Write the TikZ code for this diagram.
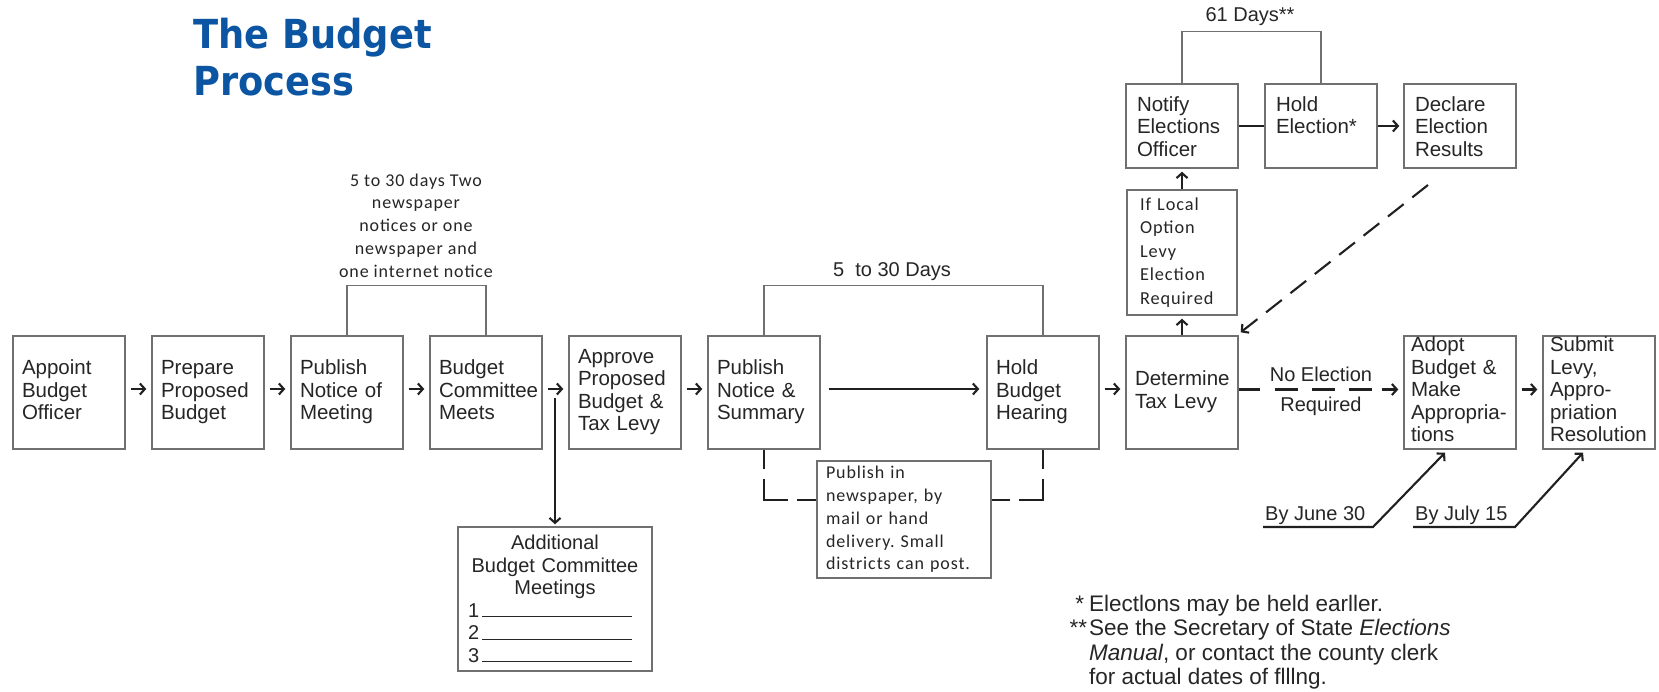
\documentclass[tikz,border=0pt]{standalone}
\usepackage{fontspec}
\usepackage{graphicx}
\setmainfont{Liberation Sans}
\newfontfamily\calfont[LetterSpace=5]{Carlito}
\newfontfamily\titlefont[FakeStretch=0.92]{DejaVu Sans}
\usetikzlibrary{arrows.meta}
\definecolor{boxgray}{HTML}{707070}
\definecolor{txt}{HTML}{262626}
\definecolor{arrowc}{HTML}{202020}
\definecolor{titleblue}{HTML}{0C55A2}
\frenchspacing
\begin{document}
\begin{tikzpicture}[x=1pt,y=-1pt,
  basebox/.style={draw=boxgray, line width=1.4pt, minimum height=113pt, inner xsep=9pt, inner ysep=0pt, text width=94pt, align=left, text=txt, font=\fontsize{20.5}{22.5}\selectfont},
  box/.style={basebox, execute at begin node=\strut, execute at end node=\strut},
  topbox/.style={basebox, minimum height=84pt, inner xsep=11pt, text width=90pt, execute at begin node=\strut},
  calbox/.style={draw=boxgray, line width=1.4pt, inner ysep=0pt, align=left, text=txt, font=\calfont\fontsize{18}{22.7}\selectfont},
  arr/.style={draw=arrowc, line width=2.1pt, -{Straight Barb[length=5pt,width=11pt]}},
  link/.style={draw=boxgray, line width=1.4pt},
  dlink/.style={draw=arrowc, line width=2pt},
  lbl/.style={text=txt, font=\fontsize{20}{22}\selectfont, inner sep=0pt},
]
\fill[white] (0,0) rectangle (1659,692);
\useasboundingbox (0,0) rectangle (1659,692);

% title
\node[anchor=north west, inner sep=0pt, text=titleblue, align=left,
      font=\titlefont\bfseries\fontsize{40}{47}\selectfont] (title) at (193,18) {The Budget\\Process};

% main row
\node[box] (b1) at (69,392.5) {Appoint\\Budget\\Officer};
\node[box] (b2) at (208,392.5) {Prepare\\Proposed\\Budget};
\node[box] (b3) at (347,392.5) {Publish\\Notice of\\Meeting};
\node[box] (b4) at (486,392.5) {Budget\\Committee\\Meets};
\node[box] (b5) at (625,392.5) {Approve\\Proposed\\Budget \&\\Tax Levy};
\node[box] (b6) at (764,392.5) {Publish\\Notice \&\\Summary};
\node[box] (b7) at (1043,392.5) {Hold\\Budget\\Hearing};
\node[box] (b8) at (1182,392.5) {Determine\\Tax Levy};
\node[box, inner xsep=7pt, text width=98pt] (b9) at (1460,392.5) {Adopt\\Budget \&\\Make\\\mbox{Appropria-}\\tions};
\node[box, inner xsep=7pt, text width=98pt] (b10) at (1599,392.5) {Submit\\Levy,\\Appro-\\priation\\Resolution};

% election row
\node[topbox] (notify) at (1182,126) {Notify\\Elections\\Officer};
\node[topbox] (holde) at (1321,126) {Hold\\Election*\\\mbox{}};
\node[topbox] (declare) at (1460,126) {Declare\\Election\\Results};
\node[calbox, minimum height=125pt, inner xsep=13pt, text width=84pt, font=\calfont\fontsize{18.3}{23.6}\selectfont] (iflocal) at (1182,252.5) {If Local\\Option\\Levy\\Election\\Required};

% side boxes
\node[calbox, minimum height=117pt, inner xsep=9pt, text width=156pt] (pub) at (904,519.5) {Publish in\\newspaper, by\\mail or hand\\delivery. Small\\districts can post.};
\node[basebox, align=center, minimum height=144pt, inner xsep=10pt, text width=174pt, font=\fontsize{20}{22.5}\selectfont] (addl) at (555,599)
  {Additional\\Budget Committee\\Meetings\\
   \makebox[174pt][l]{1\hspace{3pt}\rule{150pt}{1.1pt}}\\
   \makebox[174pt][l]{2\hspace{3pt}\rule{150pt}{1.1pt}}\\
   \makebox[174pt][l]{3\hspace{3pt}\rule{150pt}{1.1pt}}};

% labels
\node[text=txt, inner sep=0pt, align=center, font=\calfont\fontsize{18}{22.7}\selectfont] (lbl1) at (416,225.5)
  {5 to 30 days Two\\newspaper\\notices or one\\newspaper and\\one internet notice};
\node[lbl] (lbl2) at (892,272) {5\ \ to 30 Days};
\node[lbl] (lbl3) at (1250,17) {61 Days**};
\node[lbl] (noel) at (1321,374) {No Election};
\node[lbl] (req) at (1321,406) {Required};
\node[lbl, anchor=base west] (june) at (1265,520) {By June 30};
\node[lbl, anchor=base west] (july) at (1415,520) {By July 15};
\node[anchor=north west, inner sep=0pt, align=left, text=txt, font=\fontsize{22.5}{24.4}\selectfont] (notes) at (1089,595)
  {\llap{*\hspace{5pt}}Electlons may be held earller.\\
   \llap{**\hspace{2pt}}See the Secretary of State \textit{Elections}\\
   \textit{Manual}, or contact the county clerk\\
   for actual dates of flllng.};

% brackets
\draw[link] (b3.north) -- ++(0,-50) -| (b4.north);
\draw[link] (b6.north) -- ++(0,-50) -| (b7.north);
\draw[link] (notify.north) -- ++(0,-52) -| (holde.north);

% dashed bracket under publish/hearing
\coordinate (dl) at (764,500);
\coordinate (dr) at (1043,500);
\draw[dlink, dash pattern=on 19pt off 10pt on 45pt off 9pt on 40pt] (b6.south) -- (dl) -- (dl -| pub.west);
\draw[dlink, dash pattern=on 19pt off 10pt on 45pt off 9pt on 40pt] (b7.south) -- (dr) -- (dr -| pub.east);

% main arrows
\draw[arr] ([xshift=5pt,yshift=3.5pt]b1.east) -- ([xshift=-5pt,yshift=3.5pt]b2.west);
\draw[arr] ([xshift=5pt,yshift=3.5pt]b2.east) -- ([xshift=-5pt,yshift=3.5pt]b3.west);
\draw[arr] ([xshift=5pt,yshift=3.5pt]b3.east) -- ([xshift=-5pt,yshift=3.5pt]b4.west);
\draw[arr] ([xshift=5pt,yshift=3.5pt]b4.east) -- ([xshift=-5pt,yshift=3.5pt]b5.west);
\draw[arr] ([xshift=5pt,yshift=3.5pt]b5.east) -- ([xshift=-5pt,yshift=3.5pt]b6.west);
\draw[arr] ([xshift=8pt,yshift=3.5pt]b6.east) -- ([xshift=-7pt,yshift=3.5pt]b7.west);
\draw[arr] ([xshift=5pt,yshift=3.5pt]b7.east) -- ([xshift=-5pt,yshift=3.5pt]b8.west);
\draw[arr, dash pattern=on 21pt off 15pt on 23pt off 14pt on 23pt off 14pt on 23pt off 10pt on 40pt] ([yshift=3pt]b8.east) -- ([xshift=-5pt,yshift=3pt]b9.west);
\draw[arr] ([xshift=5pt,yshift=3pt]b9.east) -- ([xshift=-5pt,yshift=3pt]b10.west);

% additional meetings
\coordinate (vstart) at (555,398);
\draw[arr] (vstart) -- ([yshift=2pt]addl.north);

% election arrows
\draw[dlink] (notify.east) -- (holde.west);
\draw[arr] (holde.east) -- ([xshift=-4pt]declare.west);
\draw[arr] (iflocal.north) -- ([yshift=-3pt]notify.south);
\draw[arr] (b8.north) -- ([yshift=-3pt]iflocal.south);
\coordinate (dstart) at (1428,185);
\draw[arr, dash pattern=on 20pt off 11pt] (dstart) -- ([xshift=2pt,yshift=3pt]b8.north east);

% deadlines
\coordinate (ju1) at (1263,527);
\coordinate (ju2) at (1373,527);
\draw[arr] (ju1) -- (ju2) -- ([xshift=-15pt,yshift=-3pt]b9.south);
\coordinate (jl1) at (1413,527);
\coordinate (jl2) at (1515,527);
\draw[arr] (jl1) -- (jl2) -- ([xshift=-16pt,yshift=-3pt]b10.south);
\end{tikzpicture}
\end{document}
